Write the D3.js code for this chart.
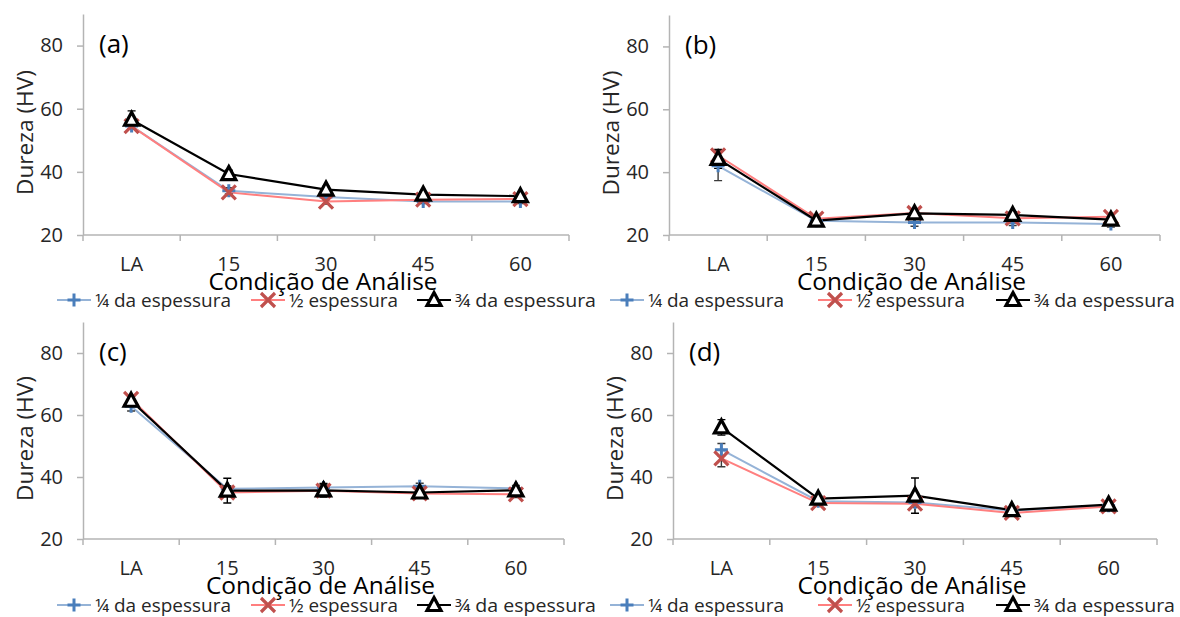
<!DOCTYPE html>
<html>
<head>
<meta charset="utf-8">
<script src="https://cdn.jsdelivr.net/npm/d3@7"></script>
<style>
  body { margin: 0; background: #fff; }
  svg { display: block; font-family: "Open Sans", sans-serif; }
</style>
</head>
<body>
<svg></svg>
<script>
const width = 1180;
const height = 617;

// data
const categories = ["LA", "15", "30", "45", "60"];
const yTicks = [20, 40, 60, 80];
const seriesNames = ["¼ da espessura", "½ espessura", "¾ da espessura"];
const panelNames = ["(a)", "(b)", "(c)", "(d)"];

// each: [¼, ½, ¾]
const valuesA = [[54.5, 34, 32, 30.6, 30.6], [54.5, 33.5, 30.6, 31.2, 31.4], [56.5, 39.3, 34.4, 32.8, 32.3]];
const errorsA = [[1, 1, 0.8, 0.6, 0.6], [1, 1, 0.8, 0.6, 0.6], [2.8, 1.2, 1, 0.8, 0.8]];
const valuesB = [[42, 24.5, 24, 24, 23.5], [45.3, 25.2, 27, 25.3, 25.8], [44.2, 24.6, 26.9, 26.4, 24.9]];
const errorsB = [[4.7, 1, 1.2, 1, 1], [1.5, 1, 1, 1, 1], [3, 1, 1, 1, 1]];
const valuesC = [[62.8, 36.2, 36.6, 37, 36.3], [65.2, 35, 35.6, 34.7, 34.4], [64.6, 35.6, 35.7, 35, 35.7]];
const errorsC = [[1.5, 1, 1, 1, 1], [1, 1, 1, 1, 1], [1.5, 4, 2.2, 1, 1]];
const valuesD = [[48.8, 32.2, 31.8, 29.2, 30.7], [46, 31.6, 31.4, 28.4, 30.5], [56, 33, 34, 29.3, 31.1]];
const errorsD = [[2, 1, 1.5, 0.8, 0.8], [2.7, 1, 1, 0.8, 0.8], [2.5, 1, 5.7, 0.8, 0.8]];

const panelValues = [valuesA, valuesB, valuesC, valuesD];
const panelErrors = [errorsA, errorsB, errorsC, errorsD];

// layout of the four plots
const layout = [
  { x0: 83, x1: 569, yT: 14, yB: 235, legX: [74, 268, 434], legY: 300 },
  { x0: 669, x1: 1160, yT: 15, yB: 235, legX: [627, 835, 1013], legY: 300 },
  { x0: 83, x1: 564, yT: 322, yB: 539, legX: [74, 268, 434], legY: 605 },
  { x0: 673, x1: 1157, yT: 322, yB: 539, legX: [627, 835, 1013], legY: 605 }
];

const lineColors = ["#95b3d7", "#ff7f7f", "#000000"];
const markColors = ["#4a7ebb", "#c0504d", "#000000"];
const axisColor = "#b4b4b4";

const svg = d3.select("svg")
  .attr("width", width)
  .attr("height", height);

svg.append("rect").attr("width", width).attr("height", height).attr("fill", "#fff");

function drawMarker(g, k, cx, cy) {
  if (k === 0) {
    g.append("path")
      .attr("d", `M${cx - 6.5},${cy}H${cx + 6.5}M${cx},${cy - 6.5}V${cy + 6.5}`)
      .attr("stroke", markColors[0]).attr("stroke-width", 3).attr("fill", "none");
  } else if (k === 1) {
    g.append("path")
      .attr("d", `M${cx - 7},${cy - 7}L${cx + 7},${cy + 7}M${cx - 7},${cy + 7}L${cx + 7},${cy - 7}`)
      .attr("stroke", markColors[1]).attr("stroke-width", 3.2).attr("fill", "none");
  } else {
    g.append("path")
      .attr("d", `M${cx},${cy - 7.5}L${cx + 7},${cy + 5.5}L${cx - 7},${cy + 5.5}Z`)
      .attr("stroke", "#000").attr("stroke-width", 3.2).attr("fill", "#fff")
      .attr("stroke-linejoin", "miter");
  }
}

layout.forEach(function (p, i) {
  const g = svg.append("g");

  const x = d3.scaleBand().domain(categories).range([p.x0, p.x1]).padding(0);
  const y = d3.scaleLinear().domain([20, 90]).range([p.yB, p.yT]);

  // y axis
  const yAxis = g.append("g")
    .attr("transform", `translate(${p.x0},0)`)
    .call(d3.axisLeft(y).tickValues(yTicks).tickSize(6).tickPadding(14).tickSizeOuter(0));
  yAxis.select(".domain").attr("stroke", axisColor).attr("stroke-width", 1.5);
  yAxis.selectAll(".tick line").attr("stroke", axisColor).attr("stroke-width", 1.5);
  yAxis.selectAll(".tick text")
    .attr("font-size", 20).attr("fill", "#262626")
    .attr("font-family", "Open Sans, sans-serif");

  // x axis
  const bounds = categories.map(c => x(c)).concat([p.x1]);
  g.append("line")
    .attr("x1", p.x0).attr("x2", p.x1).attr("y1", p.yB).attr("y2", p.yB)
    .attr("stroke", axisColor).attr("stroke-width", 1.5);
  g.selectAll(".xt").data(bounds).enter().append("line")
    .attr("x1", d => d).attr("x2", d => d)
    .attr("y1", p.yB).attr("y2", p.yB + 6)
    .attr("stroke", axisColor).attr("stroke-width", 1.5);
  g.selectAll(".xl").data(categories).enter().append("text")
    .attr("x", d => x(d) + x.bandwidth() / 2)
    .attr("y", p.yB + 28)
    .attr("text-anchor", "middle")
    .attr("dominant-baseline", "central")
    .attr("font-size", 20).attr("fill", "#262626")
    .text(d => d);

  // titles
  g.append("text")
    .attr("x", (p.x0 + p.x1) / 2 - 3)
    .attr("y", p.yB + 46)
    .attr("text-anchor", "middle")
    .attr("dominant-baseline", "central")
    .attr("font-size", 23).attr("fill", "#000")
    .attr("textLength", 229).attr("lengthAdjust", "spacingAndGlyphs")
    .text("Condição de Análise");

  const cy = (p.yT + p.yB) / 2 + 8;
  g.append("text")
    .attr("transform", `translate(${p.x0 - 58},${cy}) rotate(-90)`)
    .attr("text-anchor", "middle")
    .attr("dominant-baseline", "central")
    .attr("font-size", 21).attr("fill", "#262626")
    .attr("textLength", 125).attr("lengthAdjust", "spacingAndGlyphs")
    .text("Dureza (HV)");

  g.append("text")
    .attr("x", p.x0 + 16)
    .attr("y", p.yT + 29)
    .attr("dominant-baseline", "central")
    .attr("font-size", 26).attr("fill", "#000")
    .text(panelNames[i]);

  // series
  const vals = panelValues[i];
  const errs = panelErrors[i];
  const cx = d => x(d) + x.bandwidth() / 2;

  vals.forEach(function (series, k) {
    const line = d3.line()
      .x((d, j) => cx(categories[j]))
      .y(d => y(d));
    g.append("path")
      .datum(series)
      .attr("d", line)
      .attr("fill", "none")
      .attr("stroke", lineColors[k])
      .attr("stroke-width", k === 2 ? 2.2 : 2);
  });

  vals.forEach(function (series, k) {
    series.forEach(function (v, j) {
      const e = errs[k][j];
      const px = cx(categories[j]);
      g.append("path")
        .attr("d", `M${px},${y(v - e)}V${y(v + e)}M${px - 4},${y(v - e)}H${px + 4}M${px - 4},${y(v + e)}H${px + 4}`)
        .attr("stroke", k === 2 ? "#000" : "#3a3a3a")
        .attr("stroke-width", 1.4).attr("fill", "none");
    });
  });

  vals.forEach(function (series, k) {
    series.forEach(function (v, j) {
      drawMarker(g, k, cx(categories[j]), y(v));
    });
  });

  // legend
  const legWidths = [136, 109, 141];
  seriesNames.forEach(function (name, k) {
    const mx = p.legX[k];
    g.append("line")
      .attr("x1", mx - 17).attr("x2", mx + 17)
      .attr("y1", p.legY).attr("y2", p.legY)
      .attr("stroke", lineColors[k]).attr("stroke-width", 2);
    drawMarker(g, k, mx, p.legY);
    g.append("text")
      .attr("x", mx + 21)
      .attr("y", p.legY)
      .attr("dominant-baseline", "central")
      .attr("font-size", 19).attr("fill", "#262626")
      .attr("textLength", legWidths[k]).attr("lengthAdjust", "spacingAndGlyphs")
      .text(name);
  });
});
</script>
</body>
</html>
